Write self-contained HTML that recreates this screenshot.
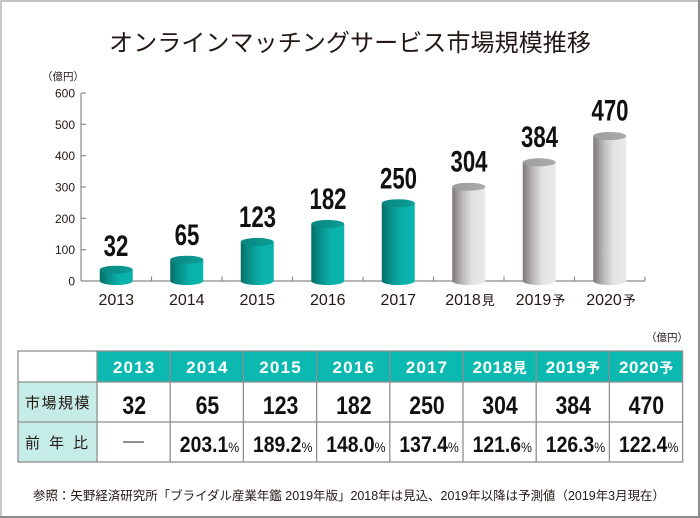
<!DOCTYPE html>
<html>
<head>
<meta charset="utf-8">
<style>
  html,body{margin:0;padding:0;background:#fff;}
  body{width:700px;height:518px;overflow:hidden;}
  svg{display:block;}
  .jp{font-family:"Liberation Sans","Noto Sans CJK JP",sans-serif;}
  .ls{font-family:"Liberation Sans",sans-serif;}
</style>
</head>
<body>
<svg width="700" height="518" viewBox="0 0 700 518" xmlns="http://www.w3.org/2000/svg">
  <defs>
    <linearGradient id="tb" x1="0" y1="0" x2="1" y2="0">
      <stop offset="0" stop-color="#056c68"/>
      <stop offset="0.25" stop-color="#088e88"/>
      <stop offset="0.6" stop-color="#0ab1aa"/>
      <stop offset="1" stop-color="#0ab5ae"/>
    </linearGradient>
    <linearGradient id="tt" x1="0" y1="0" x2="1" y2="0">
      <stop offset="0" stop-color="#0a8580"/>
      <stop offset="1" stop-color="#0b9d97"/>
    </linearGradient>
    <linearGradient id="gb" x1="0" y1="0" x2="1" y2="0">
      <stop offset="0" stop-color="#7d7879"/>
      <stop offset="0.3" stop-color="#b9b7b7"/>
      <stop offset="0.6" stop-color="#e3e3e3"/>
      <stop offset="1" stop-color="#e9e9e9"/>
    </linearGradient>
    <linearGradient id="gt" x1="0" y1="0" x2="1" y2="0">
      <stop offset="0" stop-color="#9c9c9c"/>
      <stop offset="1" stop-color="#ababab"/>
    </linearGradient>
  </defs>

  <!-- frame -->
  <rect x="0" y="0" width="700" height="518" fill="#fff"/>
  <rect x="0" y="0" width="700" height="2" fill="#c2c2c2"/>
  <rect x="0" y="0" width="2" height="518" fill="#c8c8c8"/>
  <rect x="698" y="0" width="2" height="518" fill="#8c8c8c"/>
  <rect x="0" y="516" width="700" height="2" fill="#8c8c8c"/>

  <!-- title -->
  <text class="jp" x="109" y="51" font-size="24" fill="#231815" textLength="482" lengthAdjust="spacingAndGlyphs">オンラインマッチングサービス市場規模推移</text>

  <!-- y unit -->
  <text class="jp" x="42" y="80" font-size="10.5" fill="#231815">（億円）</text>

  <!-- y axis -->
  <g stroke="#8a8a8a" stroke-width="1.2" fill="none">
    <line x1="81" y1="93" x2="81" y2="281"/>
    <line x1="81" y1="93" x2="86" y2="93"/>
    <line x1="81" y1="124.3" x2="86" y2="124.3"/>
    <line x1="81" y1="155.7" x2="86" y2="155.7"/>
    <line x1="81" y1="187" x2="86" y2="187"/>
    <line x1="81" y1="218.3" x2="86" y2="218.3"/>
    <line x1="81" y1="249.7" x2="86" y2="249.7"/>
    <line x1="81" y1="281" x2="645" y2="281"/>
    <line x1="151.5" y1="276.5" x2="151.5" y2="281"/>
    <line x1="222" y1="276.5" x2="222" y2="281"/>
    <line x1="292.5" y1="276.5" x2="292.5" y2="281"/>
    <line x1="363" y1="276.5" x2="363" y2="281"/>
    <line x1="433.5" y1="276.5" x2="433.5" y2="281"/>
    <line x1="504" y1="276.5" x2="504" y2="281"/>
    <line x1="574.5" y1="276.5" x2="574.5" y2="281"/>
    <line x1="645" y1="276.5" x2="645" y2="281"/>
  </g>
  <g class="ls" font-size="12" fill="#231815" text-anchor="end">
    <text x="75" y="97.5">600</text>
    <text x="75" y="128.8">500</text>
    <text x="75" y="160.2">400</text>
    <text x="75" y="191.5">300</text>
    <text x="75" y="222.8">200</text>
    <text x="75" y="254.2">100</text>
    <text x="75" y="285.5">0</text>
  </g>

  <!-- cylinders -->
  <path d="M99.75,269.7 L99.75,281 A16.5,4 0 0 0 132.75,281 L132.75,269.7 Z" fill="url(#tb)"/>
  <ellipse cx="116.25" cy="269.7" rx="16.5" ry="4" fill="url(#tt)"/>
  <path d="M170.25,259.7 L170.25,281 A16.5,4 0 0 0 203.25,281 L203.25,259.7 Z" fill="url(#tb)"/>
  <ellipse cx="186.75" cy="259.7" rx="16.5" ry="4" fill="url(#tt)"/>
  <path d="M240.75,241.9 L240.75,281 A16.5,4 0 0 0 273.75,281 L273.75,241.9 Z" fill="url(#tb)"/>
  <ellipse cx="257.25" cy="241.9" rx="16.5" ry="4" fill="url(#tt)"/>
  <path d="M311.25,223.9 L311.25,281 A16.5,4 0 0 0 344.25,281 L344.25,223.9 Z" fill="url(#tb)"/>
  <ellipse cx="327.75" cy="223.9" rx="16.5" ry="4" fill="url(#tt)"/>
  <path d="M381.75,203.2 L381.75,281 A16.5,4 0 0 0 414.75,281 L414.75,203.2 Z" fill="url(#tb)"/>
  <ellipse cx="398.25" cy="203.2" rx="16.5" ry="4" fill="url(#tt)"/>
  <path d="M452.25,186.7 L452.25,281 A16.5,4 0 0 0 485.25,281 L485.25,186.7 Z" fill="url(#gb)"/>
  <ellipse cx="468.75" cy="186.7" rx="16.5" ry="4" fill="url(#gt)"/>
  <path d="M522.75,162.3 L522.75,281 A16.5,4 0 0 0 555.75,281 L555.75,162.3 Z" fill="url(#gb)"/>
  <ellipse cx="539.25" cy="162.3" rx="16.5" ry="4" fill="url(#gt)"/>
  <path d="M593.25,136 L593.25,281 A16.5,4 0 0 0 626.25,281 L626.25,136 Z" fill="url(#gb)"/>
  <ellipse cx="609.75" cy="136" rx="16.5" ry="4" fill="url(#gt)"/>

  <!-- value labels -->
  <g class="ls" font-size="30" font-weight="bold" fill="#111" text-anchor="middle">
    <text transform="translate(116,256) scale(0.74,1)">32</text>
    <text transform="translate(187,245) scale(0.74,1)">65</text>
    <text transform="translate(257.5,227) scale(0.74,1)">123</text>
    <text transform="translate(328,209) scale(0.74,1)">182</text>
    <text transform="translate(398.5,188.5) scale(0.74,1)">250</text>
    <text transform="translate(469,171.5) scale(0.74,1)">304</text>
    <text transform="translate(539.5,147) scale(0.74,1)">384</text>
    <text transform="translate(610,120.5) scale(0.74,1)">470</text>
  </g>

  <!-- x labels -->
  <g class="jp" font-size="16" fill="#231815" text-anchor="middle">
    <text x="116.25" y="305">2013</text>
    <text x="186.75" y="305">2014</text>
    <text x="257.25" y="305">2015</text>
    <text x="327.75" y="305">2016</text>
    <text x="398.25" y="305">2017</text>
    <text x="470" y="305">2018<tspan font-size="13" dx="1">見</tspan></text>
    <text x="540.5" y="305">2019<tspan font-size="13" dx="1">予</tspan></text>
    <text x="611" y="305">2020<tspan font-size="13" dx="1">予</tspan></text>
  </g>

  <!-- table unit -->
  <text class="jp" x="688" y="341" font-size="10.5" fill="#231815" text-anchor="end">（億円）</text>

  <!-- table backgrounds -->
  <rect x="97" y="351" width="585.6" height="31" fill="#0bb9b1"/>
  <rect x="18" y="382" width="79" height="80" fill="#c6ece7"/>

  <!-- table grid -->
  <g stroke="#8f8f8f" stroke-width="1.3" fill="none">
    <rect x="18" y="351" width="664.6" height="111"/>
    <line x1="18" y1="382" x2="682.6" y2="382"/>
    <line x1="18" y1="422" x2="682.6" y2="422"/>
    <line x1="97" y1="351" x2="97" y2="462"/>
    <line x1="170.2" y1="351" x2="170.2" y2="462"/>
    <line x1="243.4" y1="351" x2="243.4" y2="462"/>
    <line x1="316.6" y1="351" x2="316.6" y2="462"/>
    <line x1="389.8" y1="351" x2="389.8" y2="462"/>
    <line x1="463" y1="351" x2="463" y2="462"/>
    <line x1="536.2" y1="351" x2="536.2" y2="462"/>
    <line x1="609.4" y1="351" x2="609.4" y2="462"/>
  </g>

  <!-- header text -->
  <g class="jp" font-size="17" font-weight="bold" fill="#fff" text-anchor="middle" letter-spacing="1.2">
    <text x="134.2" y="373">2013</text>
    <text x="207.4" y="373">2014</text>
    <text x="280.6" y="373">2015</text>
    <text x="353.8" y="373">2016</text>
    <text x="427" y="373">2017</text>
    <text x="500" y="373" letter-spacing="0.6">2018<tspan font-size="14">見</tspan></text>
    <text x="573.2" y="373" letter-spacing="0.6">2019<tspan font-size="14">予</tspan></text>
    <text x="646.4" y="373" letter-spacing="0.6">2020<tspan font-size="14">予</tspan></text>
  </g>

  <!-- row labels -->
  <text class="jp" x="25" y="408" font-size="15" fill="#231815" letter-spacing="1.5">市場規模</text>
  <text class="jp" x="25" y="448" font-size="15" fill="#231815" letter-spacing="9">前年比</text>

  <!-- row 2 values -->
  <g class="ls" font-size="25" font-weight="bold" fill="#111" text-anchor="middle">
    <text transform="translate(134.2,414) scale(0.85,1)">32</text>
    <text transform="translate(207.4,414) scale(0.85,1)">65</text>
    <text transform="translate(280.6,414) scale(0.85,1)">123</text>
    <text transform="translate(353.8,414) scale(0.85,1)">182</text>
    <text transform="translate(427,414) scale(0.85,1)">250</text>
    <text transform="translate(500,414) scale(0.85,1)">304</text>
    <text transform="translate(573.2,414) scale(0.85,1)">384</text>
    <text transform="translate(646.4,414) scale(0.85,1)">470</text>
  </g>

  <!-- row 3 values -->
  <line x1="123" y1="442" x2="144" y2="442" stroke="#222" stroke-width="1.1"/>
  <g class="ls" font-size="22" font-weight="bold" fill="#111" text-anchor="middle">
    <text transform="translate(209.5,452) scale(0.88,1)">203.1<tspan font-size="14" font-weight="normal">%</tspan></text>
    <text transform="translate(282.7,452) scale(0.88,1)">189.2<tspan font-size="14" font-weight="normal">%</tspan></text>
    <text transform="translate(355.9,452) scale(0.88,1)">148.0<tspan font-size="14" font-weight="normal">%</tspan></text>
    <text transform="translate(429.1,452) scale(0.88,1)">137.4<tspan font-size="14" font-weight="normal">%</tspan></text>
    <text transform="translate(502.3,452) scale(0.88,1)">121.6<tspan font-size="14" font-weight="normal">%</tspan></text>
    <text transform="translate(575.5,452) scale(0.88,1)">126.3<tspan font-size="14" font-weight="normal">%</tspan></text>
    <text transform="translate(648.7,452) scale(0.88,1)">122.4<tspan font-size="14" font-weight="normal">%</tspan></text>
  </g>

  <!-- footer -->
  <text class="jp" x="33" y="500" font-size="12.5" fill="#231815" textLength="632" lengthAdjust="spacingAndGlyphs">参照：矢野経済研究所「ブライダル産業年鑑 2019年版」2018年は見込、2019年以降は予測値（2019年3月現在）</text>
</svg>
</body>
</html>
